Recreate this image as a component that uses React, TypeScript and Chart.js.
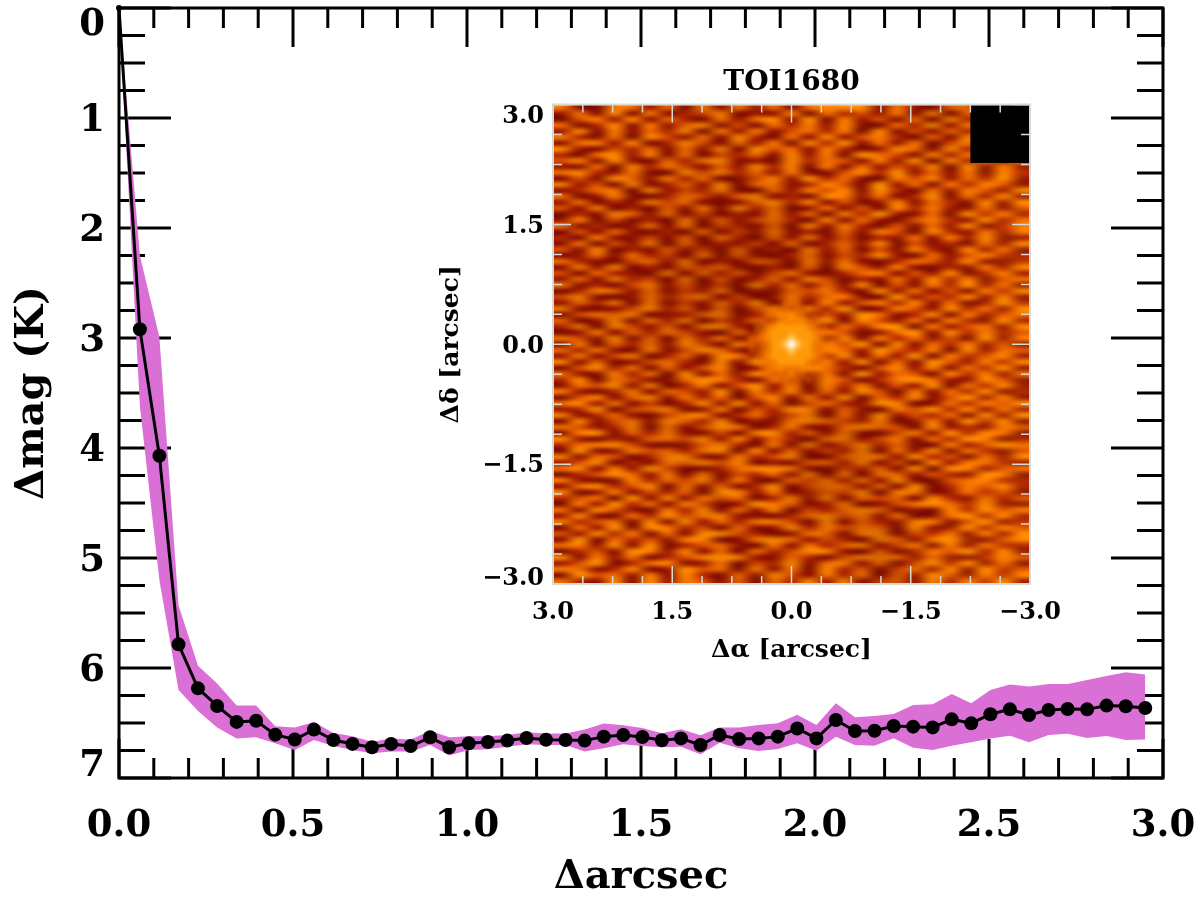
import React, { useEffect, useRef } from "react";
import { Chart, registerables } from "chart.js";

Chart.register(...registerables);

// ---- Contrast curve, values ----
const sepArcsec = [0, 0.06, 0.116, 0.171, 0.227, 0.282, 0.338, 0.394, 0.449, 0.505, 0.56, 0.616, 0.671, 0.727, 0.782, 0.838, 0.894, 0.949, 1.005, 1.06, 1.116, 1.171, 1.227, 1.283, 1.338, 1.393, 1.449, 1.504, 1.56, 1.615, 1.671, 1.726, 1.782, 1.838, 1.893, 1.949, 2.004, 2.06, 2.115, 2.171, 2.226, 2.282, 2.338, 2.393, 2.449, 2.504, 2.56, 2.615, 2.671, 2.726, 2.782, 2.838, 2.893, 2.949];
const deltaMag = [0, 2.92, 4.07, 5.785, 6.185, 6.345, 6.49, 6.48, 6.606, 6.65, 6.56, 6.655, 6.69, 6.72, 6.69, 6.71, 6.63, 6.72, 6.685, 6.673, 6.66, 6.636, 6.652, 6.655, 6.66, 6.624, 6.609, 6.627, 6.657, 6.64, 6.7, 6.609, 6.645, 6.64, 6.624, 6.55, 6.64, 6.473, 6.573, 6.57, 6.527, 6.533, 6.54, 6.467, 6.503, 6.42, 6.376, 6.427, 6.382, 6.373, 6.376, 6.342, 6.348, 6.364];
const bandBright = [0, 2.25, 2.99, 5.43, 5.98, 6.14, 6.34, 6.34, 6.53, 6.54, 6.49, 6.59, 6.62, 6.67, 6.64, 6.65, 6.57, 6.63, 6.62, 6.62, 6.61, 6.585, 6.595, 6.595, 6.56, 6.505, 6.52, 6.545, 6.594, 6.556, 6.612, 6.54, 6.542, 6.518, 6.503, 6.424, 6.518, 6.321, 6.448, 6.436, 6.418, 6.336, 6.33, 6.236, 6.321, 6.2, 6.151, 6.169, 6.145, 6.145, 6.109, 6.073, 6.039, 6.06];
const bandFaint = [0, 3.62, 5.2, 6.2, 6.39, 6.54, 6.64, 6.63, 6.685, 6.745, 6.655, 6.71, 6.745, 6.775, 6.76, 6.76, 6.7, 6.795, 6.745, 6.739, 6.715, 6.694, 6.7, 6.7, 6.76, 6.73, 6.694, 6.709, 6.721, 6.715, 6.785, 6.679, 6.73, 6.755, 6.736, 6.685, 6.752, 6.624, 6.7, 6.706, 6.639, 6.725, 6.745, 6.706, 6.676, 6.642, 6.615, 6.676, 6.609, 6.597, 6.636, 6.618, 6.655, 6.651];
const pointRadii = sepArcsec.map((_, i) => (i === 0 ? 3 : 7));

// ---- Inset image. The speckle grid is hand-typed and only imitates the look of the
// original: its individual cells cannot be read from the picture. The shade grid
// and the central glow are estimates of what the picture actually shows.
const insetLevels = [
  "721763618273616889273166138",
  "362817245813271645372816394",
  "157382641736829173526184729",
  "614827369251647382164938275",
  "381726491837256471825364917",
  "742618537294162835741629384",
  "267381495263718492637158246",
  "831546273819562741386294715",
  "416938271546283719652847136",
  "572831647923184652739184627",
  "326184752639481726354819273",
  "684372195846372158493627184",
  "152963847125839462175836492",
  "735182463916724851936274851",
  "246719354821637582941637528",
  "613821475369241873624916382",
  "361428572136948251372641829",
  "527141638294713625184732615",
  "142863725142836174932618473",
  "371524182635741826315742836",
  "624137281542618374152638147",
  "152631417253824162751842637",
  "417325261841637251436273812",
  "261538172435271463815241628",
  "528142635172418361527418361",
  "136274518263147254831625743",
  "642157381426518372146538214",
  "273814265731426185372142638",
  "516431827462583146725381472",
  "362745181624738514263847156",
  "724158362519473628152749361",
  "148637254813265741836251748",
  "582137469251384672193548271",
  "364718253749162835748261394",
  "821359462715836491275384629",
  "257681346924781539624817356",
  "613927481536274918536274193",
  "471853628941735264891735628",
  "138264753162984751369284735",
  "753926184725639182746351927",
  "281647395184263759182647351",
  "647318259631472863954718265",
  "372581462973615482639174582",
  "826135741829564738162953748",
  "159472635813729641583726491",
  "632847192638541729365184726",
  "481753269741632851479632851",
  "265938147259361847253916482",
  "731482653917482639517264813",
  "158269374615827391648259371",
  "683725149382615743981264759",
  "349156823715498263175948263",
  "724631589246358172935461829",
  "182573964813279654813729481",
  "653481725961483279651834275",
  "279164832517946382157394861",
  "831426759382641793582649713",
  "467952136841729358462173596",
  "192385647918263549173826415",
  "726514893274591268739451628",
  "358142769581326749251837642",
  "682739512468973154629187356",
  "145963827154639281763542971",
  "731284659372165847392156843",
  "268459173624915873629147583",
  "813725461983724659187236451",
  "456192837561483927561842635",
  "173946285139762481357964821",
  "628531749263815479623184957",
  "382164957832146958371269483",
  "745618293647851926438715924",
  "163928745162394857619238475",
  "538471629854137628915462739",
  "291645378127963541862793158",
  "673829145631827469358172643",
  "145297382617459831624759382",
  "827361457983264158973621485",
  "359146823715492683715948261",
  "762481395628371946257381945",
  "195637284163952748163952748",
  "642819375261748392561837492",
];
// Central glow, drawn over the speckle at finer cells; "." leaves the speckle visible.
const insetCore = [
  ".................",
  ".......777.......",
  ".....7788877.....",
  "....778898877....",
  "...77899999877...",
  "..7789aaaaa9877..",
  "..789aaabaaa987..",
  ".7789aabdbaa9877.",
  ".7789abdfdba9877.",
  ".7789aabdbaa9877.",
  "..789aaabaaa987..",
  "..7789aaaaa9877..",
  "...77899999877...",
  "....778898877....",
  ".....7788877.....",
  ".......777.......",
  ".................",
];
const insetCoreExtent = 0.62;
// Large-scale shading over the image: d/D darker, l lighter, "." unchanged.
const insetShade = [
  "..d...d.",
  ".ddd...l",
  ".dDDd..l",
  "ddDd...l",
  ".d.....l",
  ".dd.Dd.l",
  "..d.Dd.l",
  "...d.Dll",
];
const shadeColors: Record<string, string> = { d: "rgba(110,8,0,0.16)", D: "rgba(110,8,0,0.3)", l: "rgba(255,130,0,0.18)" };
const insetPalette = ["#7c0c00", "#7c0c00", "#8a1000", "#981800", "#b02800", "#d85000", "#f06c00", "#fa7a00", "#ff8600", "#ff9000", "#ff9808", "#ffa418", "#ffb438", "#ffcc70", "#ffe4b0", "#ffffff"];
const insetBlackPatch = { xFrom: -2.25, xTo: -3, yFrom: 3, yTo: 2.27 };

// ---- Tick values and labels ----
const mainXMajor = [0, 0.5, 1, 1.5, 2, 2.5, 3];
const mainYMajor = [0, 1, 2, 3, 4, 5, 6, 7];
const insetMajor = [-3, -1.5, 0, 1.5, 3];
const insetTicks = [-3, -2.625, -2.25, -1.875, -1.5, -1.125, -0.75, -0.375, 0, 0.375, 0.75, 1.125, 1.5, 1.875, 2.25, 2.625, 3];

const SERIF = "'DejaVu Serif', serif";
const isMajor = (list: number[], v: number) => list.some((m) => Math.abs(m - v) < 1e-6);
const noPad = (s: any) => { s.paddingTop = 0; s.paddingBottom = 0; s.paddingLeft = 0; s.paddingRight = 0; };
const fmtInset = (v: any) => Number(v).toFixed(1).replace("-", "−");

function tickFrame(cfg: any) {
  return {
    id: "tickFrame",
    beforeDatasetsDraw(chart: any) {
      const { ctx, chartArea: a, scales } = chart;
      if (cfg.background) cfg.background(chart);
      ctx.save();
      ctx.strokeStyle = cfg.color;
      ctx.lineWidth = cfg.tickWidth;
      ctx.beginPath();
      for (const t of scales.x.ticks) {
        const p = scales.x.getPixelForValue(t.value);
        const l = isMajor(cfg.xMajor, t.value) ? cfg.xLong : cfg.xShort;
        ctx.moveTo(p, a.top); ctx.lineTo(p, a.top + l);
        ctx.moveTo(p, a.bottom); ctx.lineTo(p, a.bottom - l);
      }
      for (const t of scales.y.ticks) {
        const p = scales.y.getPixelForValue(t.value);
        const l = isMajor(cfg.yMajor, t.value) ? cfg.yLong : cfg.yShort;
        ctx.moveTo(a.left, p); ctx.lineTo(a.left + l, p);
        ctx.moveTo(a.right, p); ctx.lineTo(a.right - l, p);
      }
      ctx.stroke();
      ctx.restore();
    },
    afterDatasetsDraw(chart: any) {
      const { ctx, chartArea: a } = chart;
      ctx.save();
      ctx.strokeStyle = cfg.color;
      ctx.lineWidth = cfg.frameWidth;
      ctx.strokeRect(a.left, a.top, a.right - a.left, a.bottom - a.top);
      ctx.restore();
    },
    // The first and last y labels are pulled inside the axis span, as in the picture.
    afterDraw(chart: any) {
      const { ctx, scales } = chart;
      const yS = scales.y;
      const first = yS.ticks[0];
      const last = yS.ticks[yS.ticks.length - 1];
      const top = yS.getPixelForValue(first.value) < yS.getPixelForValue(last.value) ? first : last;
      const bottom = top === first ? last : first;
      ctx.save();
      ctx.font = `bold ${cfg.labelSize}px ${SERIF}`;
      ctx.fillStyle = "#000";
      ctx.textAlign = "right";
      ctx.textBaseline = "alphabetic";
      ctx.fillText(top.label, cfg.labelRight, cfg.topBaseline);
      ctx.fillText(bottom.label, cfg.labelRight, cfg.bottomBaseline);
      ctx.restore();
    },
  };
}

function gridCanvas(rows: string[], colorOf: (ch: string) => string | null) {
  const off = document.createElement("canvas");
  off.width = rows[0].length;
  off.height = rows.length;
  const o = off.getContext("2d")!;
  rows.forEach((row, r) => {
    for (let c = 0; c < row.length; c++) {
      const col = colorOf(row[c]);
      if (col) { o.fillStyle = col; o.fillRect(c, r, 1, 1); }
    }
  });
  return off;
}

function drawInsetImage(chart: any) {
  const { ctx, scales } = chart;
  const x0 = scales.x.getPixelForValue(3);
  const x1 = scales.x.getPixelForValue(-3);
  const y0 = scales.y.getPixelForValue(3);
  const y1 = scales.y.getPixelForValue(-3);
  ctx.save();
  ctx.imageSmoothingEnabled = true;
  ctx.imageSmoothingQuality = "high";
  ctx.drawImage(gridCanvas(insetLevels, (ch) => insetPalette[parseInt(ch, 16)]), x0, y0, x1 - x0, y1 - y0);
  ctx.drawImage(gridCanvas(insetShade, (ch) => shadeColors[ch] ?? null), x0, y0, x1 - x0, y1 - y0);

  const coreCanvas = gridCanvas(insetCore, (ch) => {
    if (ch === ".") return null;
    const lvl = parseInt(ch, 16);
    const hex = insetPalette[lvl];
    const alpha = lvl <= 7 ? "66" : lvl <= 8 ? "99" : lvl <= 9 ? "cc" : "ff";
    return hex + alpha;
  });
  const cx0 = scales.x.getPixelForValue(insetCoreExtent);
  const cx1 = scales.x.getPixelForValue(-insetCoreExtent);
  const cy0 = scales.y.getPixelForValue(insetCoreExtent);
  const cy1 = scales.y.getPixelForValue(-insetCoreExtent);
  ctx.drawImage(coreCanvas, cx0, cy0, cx1 - cx0, cy1 - cy0);

  const bx0 = scales.x.getPixelForValue(insetBlackPatch.xFrom);
  const bx1 = scales.x.getPixelForValue(insetBlackPatch.xTo);
  const by0 = scales.y.getPixelForValue(insetBlackPatch.yFrom);
  const by1 = scales.y.getPixelForValue(insetBlackPatch.yTo);
  ctx.fillStyle = "#000";
  ctx.fillRect(bx0, by0, bx1 - bx0, by1 - by0);
  ctx.restore();
}

const midLabelColor = (ctx: any) => {
  const ticks = ctx.scale.ticks;
  return ctx.index === 0 || ctx.index === ticks.length - 1 ? "rgba(0,0,0,0)" : "#000";
};

export default function App() {
  const mainRef = useRef<HTMLCanvasElement>(null);
  const insetRef = useRef<HTMLCanvasElement>(null);

  useEffect(() => {
    const toPts = (ys: number[]) => ys.map((y, i) => ({ x: sepArcsec[i], y }));

    const main = new Chart(mainRef.current!, {
      type: "scatter",
      data: {
        datasets: [
          { label: "Δmag", data: toPts(deltaMag), showLine: true, borderColor: "#000", borderWidth: 3, pointRadius: pointRadii, pointBackgroundColor: "#000", pointBorderWidth: 0, tension: 0, clip: false as any },
          { label: "bright", data: toPts(bandBright), showLine: true, borderWidth: 0, pointRadius: 0, backgroundColor: "#DA70D6", fill: "+1", tension: 0 },
          { label: "faint", data: toPts(bandFaint), showLine: true, borderWidth: 0, pointRadius: 0, tension: 0 },
        ],
      },
      options: {
        responsive: false,
        animation: false,
        devicePixelRatio: 1,
        layout: { autoPadding: false, padding: { left: 0, right: 37, top: 8, bottom: 0 } },
        plugins: { legend: { display: false }, tooltip: { enabled: false } },
        scales: {
          x: {
            type: "linear", min: 0, max: 3,
            afterFit: (s: any) => { s.height = 121; noPad(s); },
            grid: { display: false, drawTicks: false },
            border: { display: false },
            ticks: {
              stepSize: 0.1, autoSkip: false, maxRotation: 0, padding: 26, color: "#000",
              font: { family: SERIF, weight: "bold", size: 37 },
              callback: (v: any) => (isMajor(mainXMajor, v) ? Number(v).toFixed(1) : ""),
            },
            title: { display: true, text: "Δarcsec", color: "#000", font: { family: SERIF, weight: "bold", size: 40 }, padding: { top: 0, bottom: -3 } },
          },
          y: {
            type: "linear", min: 0, max: 7, reverse: true,
            afterFit: (s: any) => { s.width = 119; noPad(s); },
            grid: { display: false, drawTicks: false },
            border: { display: false },
            ticks: {
              stepSize: 0.25, autoSkip: false, padding: 14, labelOffset: 3, color: midLabelColor,
              font: { family: SERIF, weight: "bold", size: 37 },
              callback: (v: any) => (isMajor(mainYMajor, v) ? String(v) : ""),
            },
            title: { display: true, text: "Δmag (K)", color: "#000", font: { family: SERIF, weight: "bold", size: 40 }, padding: { top: 9, bottom: 0 } },
          },
        },
      } as any,
      plugins: [tickFrame({ color: "#000", tickWidth: 3, frameWidth: 3, xMajor: mainXMajor, yMajor: mainYMajor, xLong: 39, xShort: 20, yLong: 52, yShort: 26, labelSize: 37, labelRight: 105, topBaseline: 35, bottomBaseline: 776 })],
    });

    const inset = new Chart(insetRef.current!, {
      type: "scatter",
      data: { datasets: [{ label: "image", data: [] }] },
      options: {
        responsive: false,
        animation: false,
        devicePixelRatio: 1,
        layout: { autoPadding: false, padding: { left: 430, right: 170, top: 66, bottom: 215 } },
        plugins: {
          legend: { display: false }, tooltip: { enabled: false },
          title: { display: true, text: "TOI1680", color: "#000", fullSize: false, font: { family: SERIF, weight: "bold", size: 28 }, padding: { top: 0, bottom: 5 } },
        },
        scales: {
          x: {
            type: "linear", min: -3, max: 3, reverse: true,
            afterFit: (s: any) => { s.height = 100; noPad(s); },
            afterBuildTicks: (s: any) => { s.ticks = insetTicks.slice().reverse().map((value) => ({ value })); },
            grid: { display: false, drawTicks: false },
            border: { display: false },
            ticks: {
              autoSkip: false, maxRotation: 0, padding: 14, color: "#000",
              font: { family: SERIF, weight: "bold", size: 24 },
              callback: (v: any) => (isMajor(insetMajor, v) ? fmtInset(v) : ""),
            },
            title: { display: true, text: "Δα [arcsec]", color: "#000", font: { family: SERIF, weight: "bold", size: 25 }, padding: { top: 0, bottom: 19 } },
          },
          y: {
            type: "linear", min: -3, max: 3,
            afterFit: (s: any) => { s.width = 123; noPad(s); },
            afterBuildTicks: (s: any) => { s.ticks = insetTicks.map((value) => ({ value })); },
            grid: { display: false, drawTicks: false },
            border: { display: false },
            ticks: {
              autoSkip: false, padding: 9, labelOffset: 2, color: midLabelColor,
              font: { family: SERIF, weight: "bold", size: 24 },
              callback: (v: any) => (isMajor(insetMajor, v) ? fmtInset(v) : ""),
            },
            title: { display: true, text: "Δδ [arcsec]", color: "#000", font: { family: SERIF, weight: "bold", size: 25 }, padding: { top: 6, bottom: 0 } },
          },
        },
      } as any,
      plugins: [tickFrame({ color: "#d8d8d8", tickWidth: 1.5, frameWidth: 2, xMajor: insetMajor, yMajor: insetMajor, xLong: 18, xShort: 8, yLong: 18, yShort: 9, background: drawInsetImage, labelSize: 24, labelRight: 544, topBaseline: 123, bottomBaseline: 585 })],
    });

    return () => { main.destroy(); inset.destroy(); };
  }, []);

  const cs: React.CSSProperties = { position: "absolute", left: 0, top: 0, display: "block" };
  return (
    <div style={{ position: "fixed", left: 0, top: 0, width: 1200, height: 899, background: "#fff" }}>
      <canvas ref={mainRef} width={1200} height={899} style={cs} />
      <canvas ref={insetRef} width={1200} height={899} style={cs} />
    </div>
  );
}
